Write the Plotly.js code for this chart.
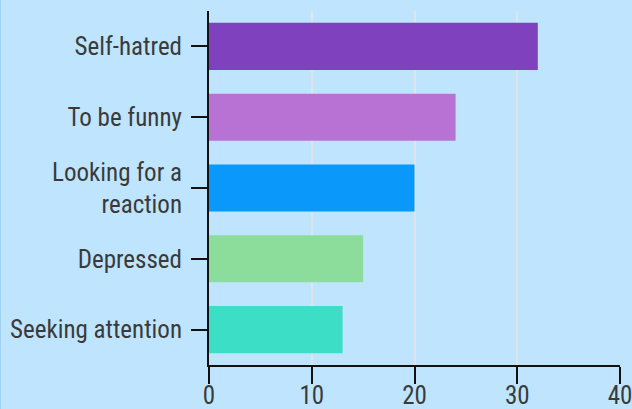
<!DOCTYPE html>
<html>
<head>
<meta charset="utf-8">
<script src="https://cdn.plot.ly/plotly-3.0.1.min.js"></script>
<style>
  html, body { margin: 0; padding: 0; background: #bfe5fe; }
  #chart { width: 631px; height: 409px; border-left: 1px solid #9fd3f5; }
  .main-svg text { font-stretch: condensed; }
</style>
</head>
<body>
<div id="chart"></div>
<script>
const categories = ["Self-hatred", "To be funny", "Looking for a<br>reaction", "Depressed", "Seeking attention"];
const values = [32, 24, 20, 15, 13];
const colors = ["#8041be", "#b872d4", "#0a99fb", "#8cdd9c", "#3cdfc6"];
const xTicks = [0, 10, 20, 30, 40];

const trace = {
  type: "bar",
  orientation: "h",
  y: categories,
  x: values,
  marker: { color: colors },
  hoverinfo: "none"
};

const layout = {
  width: 631,
  height: 409,
  margin: { l: 208, r: 12, t: 11, b: 44 },
  paper_bgcolor: "#bfe5fe",
  plot_bgcolor: "#bfe5fe",
  font: { family: "Roboto Condensed, Roboto, sans-serif", size: 25, color: "#3a3a3a" },
  bargap: 0.335,
  showlegend: false,
  xaxis: {
    range: [0, 40],
    tickvals: xTicks,
    ticktext: xTicks.map(String),
    showgrid: true,
    gridcolor: "#dde5ea",
    gridwidth: 2,
    zeroline: false,
    showline: true,
    linecolor: "#111111",
    linewidth: 2,
    ticks: "outside",
    ticklen: 17,
    tickwidth: 2,
    tickcolor: "#111111",
    ticklabelstandoff: -10,
    ticklabeloverflow: "allow",
    fixedrange: true
  },
  yaxis: {
    autorange: "reversed",
    showgrid: false,
    zeroline: false,
    showline: true,
    linecolor: "#111111",
    linewidth: 2,
    ticks: "outside",
    ticklen: 16,
    tickwidth: 2,
    tickcolor: "#111111",
    ticklabelstandoff: 4,
    fixedrange: true
  }
};

Plotly.newPlot("chart", [trace], layout, { displayModeBar: false, staticPlot: true });
</script>
</body>
</html>
